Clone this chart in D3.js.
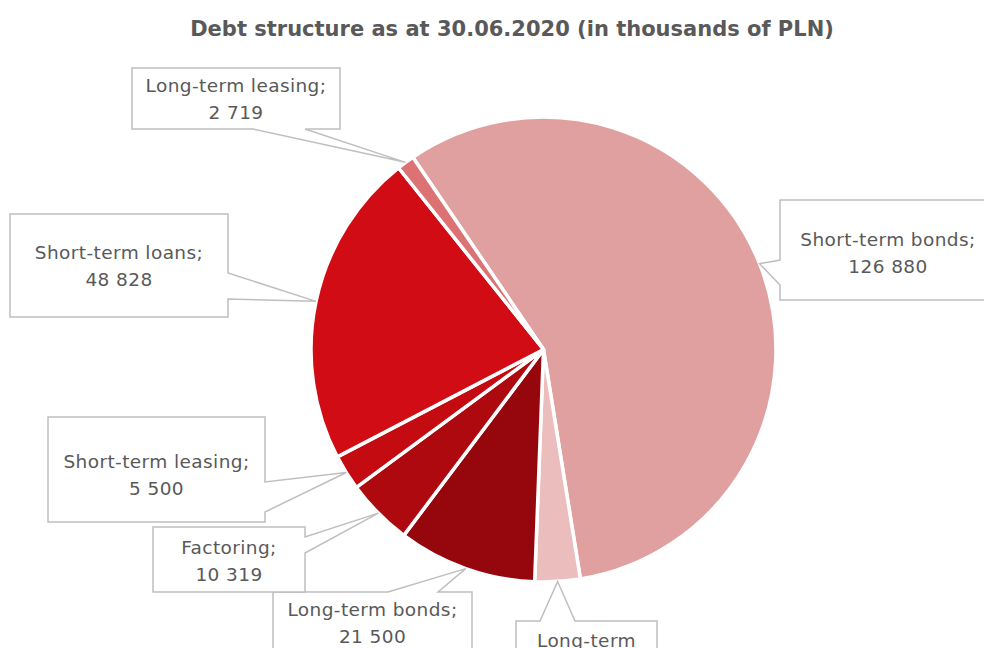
<!DOCTYPE html>
<html>
<head>
<meta charset="utf-8">
<script src="https://cdn.jsdelivr.net/npm/d3@7"></script>
<style>
  html, body { margin: 0; padding: 0; background: #ffffff; }
  svg { display: block; }
</style>
</head>
<body>
<svg id="chart" width="984" height="648"></svg>
<script>
// Debt structure as at 30.06.2020, thousands of PLN
const categories = ["Short-term bonds", "Long-term loans", "Long-term bonds", "Factoring",
                    "Short-term leasing", "Short-term loans", "Long-term leasing"];
const values = [126880, 7000, 21500, 10319, 5500, 48828, 2719];
const sliceColors = ["#e0a0a0", "#ebbdbd", "#96070d", "#ae090e", "#c40b12", "#d20c14", "#dc7274"];
const title = "Debt structure as at 30.06.2020 (in thousands of PLN)";

// Callout boxes: box rectangle, edge carrying the pointer, the pointer's base span on that edge,
// and a small vertical nudge for the text block
const callouts = [
  { x: 780, y: 200, w: 216, h: 100, edge: "left",   b0: 260, b1: 285, dy: 3 },
  { x: 516, y: 621, w: 141, h: 94,  edge: "top",    b0: 540, b1: 575, dy: 0 },
  { x: 273, y: 592, w: 199, h: 62,  edge: "top",    b0: 388, b1: 438, dy: 0 },
  { x: 153, y: 527, w: 152, h: 65,  edge: "right",  b0: 537, b1: 553, dy: 2 },
  { x: 48,  y: 417, w: 217, h: 105, edge: "right",  b0: 482, b1: 512, dy: 6 },
  { x: 10,  y: 214, w: 218, h: 103, edge: "right",  b0: 273, b1: 299, dy: 1 },
  { x: 132, y: 68,  w: 208, h: 61,  edge: "bottom", b0: 253, b1: 305, dy: 1 }
];

const svg = d3.select("#chart");
const cx = 543.5, cy = 349.5, radius = 232.5;
const startDeg = -34.2;
const textColor = "#595959";
const fontFamily = "'Century Gothic', 'DejaVu Sans', sans-serif";

const fmt = d3.formatLocale({ decimal: ",", thousands: " ", grouping: [3], currency: ["", " PLN"] }).format(",d");

svg.append("text")
  .attr("x", 512).attr("y", 36)
  .attr("text-anchor", "middle")
  .attr("font-family", fontFamily)
  .attr("font-weight", "bold")
  .attr("font-size", 21)
  .attr("fill", textColor)
  .text(title);

const data = categories.map((c, i) => ({ name: c, value: values[i], color: sliceColors[i] }));

const pie = d3.pie()
  .value(d => d.value)
  .sort(null)
  .startAngle(startDeg * Math.PI / 180)
  .endAngle(startDeg * Math.PI / 180 + 2 * Math.PI);

const arcs = pie(data);
const arc = d3.arc().innerRadius(0).outerRadius(radius);

const g = svg.append("g").attr("transform", `translate(${cx},${cy})`);

g.selectAll("path.slice")
  .data(arcs)
  .join("path")
  .attr("class", "slice")
  .attr("d", arc)
  .attr("fill", d => d.data.color)
  .attr("stroke", "#ffffff")
  .attr("stroke-width", 3.5)
  .attr("stroke-linejoin", "round");

// Callout labels
const labels = svg.append("g");
arcs.forEach((a, i) => {
  const c = callouts[i];
  const mid = (a.startAngle + a.endAngle) / 2;
  const tx = cx + radius * Math.sin(mid);
  const ty = cy - radius * Math.cos(mid);
  const x0 = c.x, y0 = c.y, x1 = c.x + c.w, y1 = c.y + c.h;
  let pts;
  if (c.edge === "left") {
    pts = [[x0, y0], [x1, y0], [x1, y1], [x0, y1], [x0, c.b1], [tx, ty], [x0, c.b0]];
  } else if (c.edge === "right") {
    pts = [[x0, y0], [x1, y0], [x1, c.b0], [tx, ty], [x1, c.b1], [x1, y1], [x0, y1]];
  } else if (c.edge === "top") {
    pts = [[x0, y0], [c.b0, y0], [tx, ty], [c.b1, y0], [x1, y0], [x1, y1], [x0, y1]];
  } else {
    pts = [[x0, y0], [x1, y0], [x1, y1], [c.b1, y1], [tx, ty], [c.b0, y1], [x0, y1]];
  }
  labels.append("path")
    .attr("d", d3.line()(pts) + "Z")
    .attr("fill", "#ffffff")
    .attr("stroke", "#bfbfbf")
    .attr("stroke-width", 1.5);

  const t = labels.append("text")
    .attr("font-family", fontFamily)
    .attr("font-size", 18.5)
    .attr("letter-spacing", 0.4)
    .attr("fill", textColor)
    .attr("text-anchor", "middle");

  // wrap the name into lines that fit the box, then the value on its own line
  const words = (a.data.name + ";").split(" ");
  const lines = [];
  let cur = "";
  const probe = t.append("tspan");
  words.forEach(w => {
    const test = cur ? cur + " " + w : w;
    probe.text(test);
    if (cur && probe.node().getComputedTextLength() > c.w - 16) {
      lines.push(cur);
      cur = w;
    } else {
      cur = test;
    }
  });
  lines.push(cur);
  probe.remove();
  lines.push(fmt(a.data.value));

  const lh = 27;
  const midX = (x0 + x1) / 2;
  const firstY = (y0 + y1) / 2 - (lines.length - 1) * lh / 2 + c.dy;
  lines.forEach((ln, k) => {
    t.append("tspan")
      .attr("x", midX)
      .attr("y", firstY + k * lh)
      .attr("dy", "0.35em")
      .text(ln);
  });
});
</script>
</body>
</html>
